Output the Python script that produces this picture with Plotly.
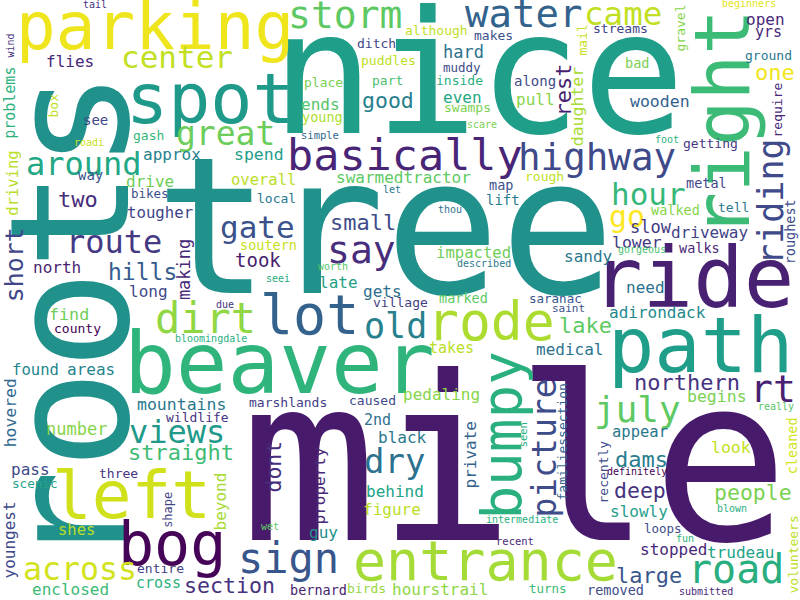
import plotly.graph_objects as go

# words in the cloud (largest first)
words = [
    "mile", "tree", "nice", "roots", "ride", "path", "beaver", "right", "parking", "spot",
    "left", "bog", "entrance", "lot", "bumpy", "rode", "basically", "highway", "road", "sign",
    "dirt", "water", "storm", "say", "old", "picture", "riding", "dry", "july", "rt",
    "came", "great", "around", "route", "views", "gate", "center", "hour", "go", "across",
    "short", "hills", "straight", "two", "small", "northern", "large", "dams", "deep", "people",
    "lake", "good", "section", "one", "rest", "dont", "took", "slow", "making", "daughter",
    "wooden", "lower", "look", "begins", "adirondack", "medical", "appear", "slowly", "trudeau", "stopped",
    "driveway", "hard", "even", "pull", "ends", "flies", "approx", "spend", "drive", "overall",
    "tougher", "north", "long", "find", "found", "areas", "mountains", "number", "hovered", "pass",
    "youngest", "enclosed", "beyond", "shes", "cross", "problems", "driving", "swarmedtractor", "impacted", "late",
    "gets", "takes", "pedaling", "2nd", "black", "property", "private", "behind", "figure", "guy",
    "hourstrail", "open", "yrs", "sandy", "need", "tell", "walked", "walks", "metal", "getting",
    "roughest", "cleaned", "volunteers", "recently", "familiessection", "ditch", "puddles", "muddy", "place",
    "part", "inside", "along", "swamps", "young", "although", "makes", "streams", "gravel", "mail",
    "ground", "bad", "require", "rough", "map", "lift", "local", "soutern", "county", "marshlands",
    "wildlife", "three", "scenic", "entire", "bernard", "birds", "turns", "saint", "saranac", "marked",
    "village", "caused", "loops", "removed", "gash", "see", "box", "bikes", "way", "shape",
    "tail", "wind", "roadi", "due", "bloomingdale", "worth", "described", "seei", "let", "thou",
    "simple", "scare", "foot", "gorgeous", "beginners", "really", "definitely", "blown", "fun", "submitted",
    "intermediate", "recent", "seen", "wet",
]

# word -> (x, y, font px, vertical, colour)
# horizontal: x = centre, y = baseline ; vertical: x = baseline, y = centre
placement = {
    "mile": (514, 540, 228, 0, "#481a6c"),
    "tree": (385, 293, 191, 0, "#21918c"),
    "nice": (478, 133, 172, 0, "#1f9e89"),
    "roots": (127, 320, 166, 1, "#21918c"),
    "ride": (693, 307, 84, 0, "#482173"),
    "path": (700, 372, 77, 0, "#1f9e89"),
    "beaver": (279, 393, 86, 0, "#2fb47c"),
    "right": (748, 123, 76, 1, "#3bbb75"),
    "parking": (155, 49, 66, 0, "#efe51c"),
    "spot": (210, 123, 70, 0, "#1f9a8a"),
    "left": (131, 518, 66, 0, "#d0e11c"),
    "bog": (172, 565, 60, 0, "#450457"),
    "entrance": (485, 580, 55, 0, "#a5db36"),
    "lot": (309, 334, 55, 0, "#33638d"),
    "bumpy": (520, 435, 56, 1, "#2ab07f"),
    "rode": (491, 340, 53, 0, "#addc30"),
    "basically": (405, 170, 43.5, 0, "#482576"),
    "highway": (597, 170, 37.5, 0, "#3e4a89"),
    "road": (736, 583, 40, 0, "#29af7f"),
    "sign": (288, 573, 42, 0, "#39568c"),
    "dirt": (205, 333, 42, 0, "#90d743"),
    "water": (523, 27, 39, 0, "#33638d"),
    "storm": (345, 28, 38, 0, "#5ec962"),
    "say": (361, 263, 38, 0, "#472d7b"),
    "old": (395, 338, 35, 0, "#27808e"),
    "picture": (555, 448, 33, 1, "#3e4c8a"),
    "riding": (783, 202, 35, 1, "#3e4a89"),
    "dry": (394, 473, 34, 0, "#2c728e"),
    "july": (637, 422, 36, 0, "#5ec962"),
    "rt": (773, 402, 38, 0, "#482173"),
    "came": (623, 25, 32.5, 0, "#c2df23"),
    "great": (225, 145, 33, 0, "#6ccd5a"),
    "around": (84, 175, 32, 0, "#22a884"),
    "route": (114, 253, 32, 0, "#443983"),
    "views": (177, 443, 32, 0, "#1f9a8a"),
    "gate": (257, 238, 31, 0, "#3b528b"),
    "center": (177, 68, 31, 0, "#c2df23"),
    "hour": (648, 205, 31, 0, "#35b779"),
    "go": (627, 227, 30, 0, "#fde725"),
    "across": (80, 580, 31.6, 0, "#d2e21b"),
    "short": (23, 265, 25, 1, "#3f4788"),
    "hills": (142, 280, 23, 0, "#365c8d"),
    "straight": (181, 460, 22, 0, "#3fbc73"),
    "two": (78, 207, 22, 0, "#472c7a"),
    "small": (363, 230, 22, 0, "#3e4c8a"),
    "northern": (687, 390, 22, 0, "#46337f"),
    "large": (649, 583, 22, 0, "#39568c"),
    "dams": (641, 467, 22, 0, "#287d8e"),
    "deep": (640, 498, 21.5, 0, "#46337f"),
    "people": (753, 500, 21.5, 0, "#7ad151"),
    "lake": (585, 333, 22, 0, "#5ec962"),
    "good": (388, 108, 21.5, 0, "#277f8e"),
    "section": (229, 593, 21.6, 0, "#46337e"),
    "one": (775, 80, 22, 0, "#f1e51d"),
    "rest": (571, 90, 22, 1, "#481f70"),
    "dont": (280, 467, 21.5, 1, "#472d7b"),
    "took": (258, 267, 19, 0, "#481f70"),
    "slow": (651, 233, 17, 0, "#443983"),
    "making": (190, 270, 17, 1, "#482878"),
    "daughter": (583, 106, 16.5, 1, "#a8db34"),
    "wooden": (660, 107, 16.5, 0, "#33638d"),
    "lower": (637, 248, 16.5, 0, "#443983"),
    "look": (731, 453, 16.5, 0, "#c2df23"),
    "begins": (717, 402, 16.5, 0, "#7ad151"),
    "adirondack": (657, 318, 16, 0, "#23898e"),
    "medical": (569, 355, 16, 0, "#2c728e"),
    "appear": (640, 437, 15.5, 0, "#2a788e"),
    "slowly": (639, 517, 16, 0, "#1f9e89"),
    "trudeau": (740, 558, 16, 0, "#20a386"),
    "stopped": (673, 555, 16, 0, "#482878"),
    "driveway": (709, 238, 16, 0, "#414487"),
    "hard": (463, 58, 17, 0, "#2c728e"),
    "even": (462, 103, 16, 0, "#22a884"),
    "pull": (535, 105, 16, 0, "#86d549"),
    "ends": (320, 110, 16, 0, "#54c568"),
    "flies": (70, 67, 16, 0, "#482878"),
    "approx": (172, 160, 16, 0, "#26828e"),
    "spend": (259, 160, 16.5, 0, "#1f9e89"),
    "drive": (150, 187, 16, 0, "#6ece58"),
    "overall": (263, 185, 15.5, 0, "#bade28"),
    "tougher": (160, 218, 15.7, 0, "#404688"),
    "north": (57, 273, 16, 0, "#481f70"),
    "long": (148, 297, 16, 0, "#3e4989"),
    "find": (69, 320, 16.7, 0, "#6ece58"),
    "found": (35, 375, 15.6, 0, "#25858e"),
    "areas": (91, 375, 16, 0, "#25858e"),
    "mountains": (181, 410, 16.5, 0, "#2a788e"),
    "number": (76, 435, 17, 0, "#86d549"),
    "hovered": (16, 413, 16.4, 1, "#31688e"),
    "pass": (30, 475, 16, 0, "#3e4989"),
    "youngest": (15, 540, 16, 1, "#3f4889"),
    "enclosed": (70, 595, 16, 0, "#3bbb75"),
    "beyond": (226, 501, 16, 1, "#a8db34"),
    "shes": (76, 535, 15.5, 0, "#bade28"),
    "cross": (158, 588, 15, 0, "#2db27d"),
    "problems": (15, 103, 15, 1, "#2db27d"),
    "driving": (18, 183, 15.5, 1, "#b8de29"),
    "swarmedtractor": (403, 183, 16, 0, "#5ec962"),
    "impacted": (473, 258, 15.6, 0, "#6ece58"),
    "late": (338, 288, 16, 0, "#1fa187"),
    "gets": (382, 297, 16, 0, "#2d708e"),
    "takes": (451, 353, 15, 0, "#bade28"),
    "pedaling": (441, 400, 16, 0, "#86d549"),
    "2nd": (377, 425, 15, 0, "#2d708e"),
    "black": (402, 443, 16, 0, "#2a788e"),
    "property": (325, 486, 16, 1, "#482878"),
    "private": (476, 455, 16, 1, "#33638d"),
    "behind": (395, 497, 16, 0, "#20a386"),
    "figure": (392, 515, 16, 0, "#bade28"),
    "guy": (323, 538, 16, 0, "#21918c"),
    "hourstrail": (440, 595, 16, 0, "#8ed645"),
    "open": (765, 25, 16, 0, "#482878"),
    "yrs": (768, 37, 15, 0, "#482878"),
    "sandy": (588, 262, 16, 0, "#2a788e"),
    "need": (645, 293, 16, 0, "#2c728e"),
    "tell": (733, 212, 13, 0, "#2a788e"),
    "walked": (675, 215, 13.5, 0, "#86d549"),
    "walks": (699, 253, 13.5, 0, "#482878"),
    "metal": (706, 188, 13.5, 0, "#404688"),
    "getting": (710, 148, 13, 0, "#443983"),
    "roughest": (795, 232, 13.5, 1, "#3e4c8a"),
    "cleaned": (797, 446, 13.5, 1, "#d2e21b"),
    "volunteers": (797, 555, 13, 1, "#bade28"),
    "recently": (607, 472, 13, 1, "#3e4c8a"),
    "familiessection": (566, 442, 13, 1, "#33638d"),
    "ditch": (376, 48, 13, 0, "#404688"),
    "puddles": (388, 65, 13, 0, "#bddf26"),
    "muddy": (462, 72, 12.5, 0, "#3e4c8a"),
    "place": (323, 87, 13, 0, "#7ad151"),
    "part": (387, 85, 13, 0, "#4ac16d"),
    "inside": (459, 85, 13, 0, "#29af7f"),
    "along": (535, 86, 14, 0, "#3e4a89"),
    "swamps": (467, 112, 13, 0, "#7ad151"),
    "young": (322, 122, 13.5, 0, "#addc30"),
    "although": (436, 35, 13, 0, "#c0df25"),
    "makes": (493, 40, 13, 0, "#3b528b"),
    "streams": (620, 33, 13, 0, "#414487"),
    "gravel": (684, 28, 13, 1, "#86d549"),
    "mail": (586, 40, 13, 1, "#c8e020"),
    "ground": (768, 60, 13, 0, "#2a788e"),
    "bad": (637, 68, 13.5, 0, "#7ad151"),
    "require": (781, 110, 13, 1, "#482878"),
    "rough": (544, 181, 13, 0, "#c0df25"),
    "map": (501, 190, 13.5, 0, "#3b528b"),
    "lift": (503, 205, 14, 0, "#287d8e"),
    "local": (276, 203, 13, 0, "#2a788e"),
    "soutern": (268, 250, 13.5, 0, "#c8e020"),
    "county": (77, 333, 13, 0, "#440154"),
    "marshlands": (288, 407, 13, 0, "#433e85"),
    "wildlife": (197, 422, 13, 0, "#46337f"),
    "three": (118, 478, 13, 0, "#46337f"),
    "scenic": (35, 488, 12.6, 0, "#26a38a"),
    "entire": (160, 573, 13, 0, "#433e85"),
    "bernard": (318, 595, 13.5, 0, "#481f70"),
    "birds": (366, 593, 13, 0, "#95d840"),
    "turns": (548, 593, 12.5, 0, "#3bbb75"),
    "saint": (568, 312, 11, 0, "#3b528b"),
    "saranac": (555, 303, 12.5, 0, "#39568c"),
    "marked": (463, 303, 13.5, 0, "#5ec962"),
    "village": (400, 307, 13, 0, "#433e85"),
    "caused": (372, 405, 13, 0, "#3e4a89"),
    "loops": (663, 533, 12.5, 0, "#3e4c8a"),
    "removed": (615, 595, 13.5, 0, "#3e4c8a"),
    "gash": (148, 140, 13, 0, "#35b779"),
    "see": (95, 125, 14, 0, "#3e4989"),
    "box": (57, 106, 13, 1, "#c0df25"),
    "bikes": (150, 198, 12.5, 0, "#3b528b"),
    "way": (90, 180, 14, 0, "#3b528b"),
    "shape": (172, 510, 12, 1, "#414487"),
    "tail": (95, 8, 10, 0, "#46337f"),
    "wind": (13, 46, 10, 1, "#46337f"),
    "roadi": (89, 146, 10, 0, "#c8e020"),
    "due": (225, 308, 10, 0, "#46337f"),
    "bloomingdale": (211, 342, 10, 0, "#29af7f"),
    "worth": (333, 270, 10, 0, "#54c568"),
    "described": (484, 267, 10, 0, "#2a788e"),
    "seei": (278, 282, 10, 0, "#25ab82"),
    "let": (392, 193, 10, 0, "#2a788e"),
    "thou": (450, 213, 10, 0, "#2c728e"),
    "simple": (320, 139, 10.5, 0, "#31688e"),
    "scare": (482, 128, 10, 0, "#7ad151"),
    "foot": (667, 143, 10, 0, "#2db27d"),
    "gorgeous": (642, 253, 10, 0, "#4ac16d"),
    "beginners": (749, 7, 10, 0, "#e2e418"),
    "really": (776, 410, 10, 0, "#54c568"),
    "definitely": (637, 475, 10, 0, "#440154"),
    "blown": (732, 512, 10, 0, "#29af7f"),
    "fun": (685, 542, 10, 0, "#2db27d"),
    "submitted": (706, 595, 10, 0, "#482878"),
    "intermediate": (522, 523, 10, 0, "#29af7f"),
    "recent": (515, 545, 10.5, 0, "#482878"),
    "seen": (527, 435, 10.5, 1, "#29af7f"),
    "wet": (270, 530, 10, 0, "#5ec962"),
}

fig = go.Figure()
fig.add_trace(go.Scatter(x=[0, 800], y=[0, 600], mode="markers",
                         marker=dict(opacity=0), hoverinfo="skip", showlegend=False))

annotations = []
for w in words:
    a, b, size, vertical, color = placement[w]
    # shift from baseline to the middle of the text box
    if vertical:
        x, y, angle = a - 0.346 * size, b, -90
    else:
        x, y, angle = a, b - 0.346 * size, 0
    annotations.append(dict(
        x=x, y=y, xref="x", yref="y", text=w, showarrow=False,
        textangle=angle, xanchor="center", yanchor="middle",
        font=dict(family="DejaVu Sans Mono", size=size, color=color)))

fig.update_layout(
    width=800, height=600,
    margin=dict(l=0, r=0, t=0, b=0),
    paper_bgcolor="white", plot_bgcolor="white",
    xaxis=dict(range=[0, 800], visible=False),
    yaxis=dict(range=[600, 0], visible=False),
    annotations=annotations,
)
# drop the page's default body margin so the figure sits at the window corner
fig.write_html("out.html", config={"displayModeBar": False},
               post_script="document.body.style.margin='0';")
